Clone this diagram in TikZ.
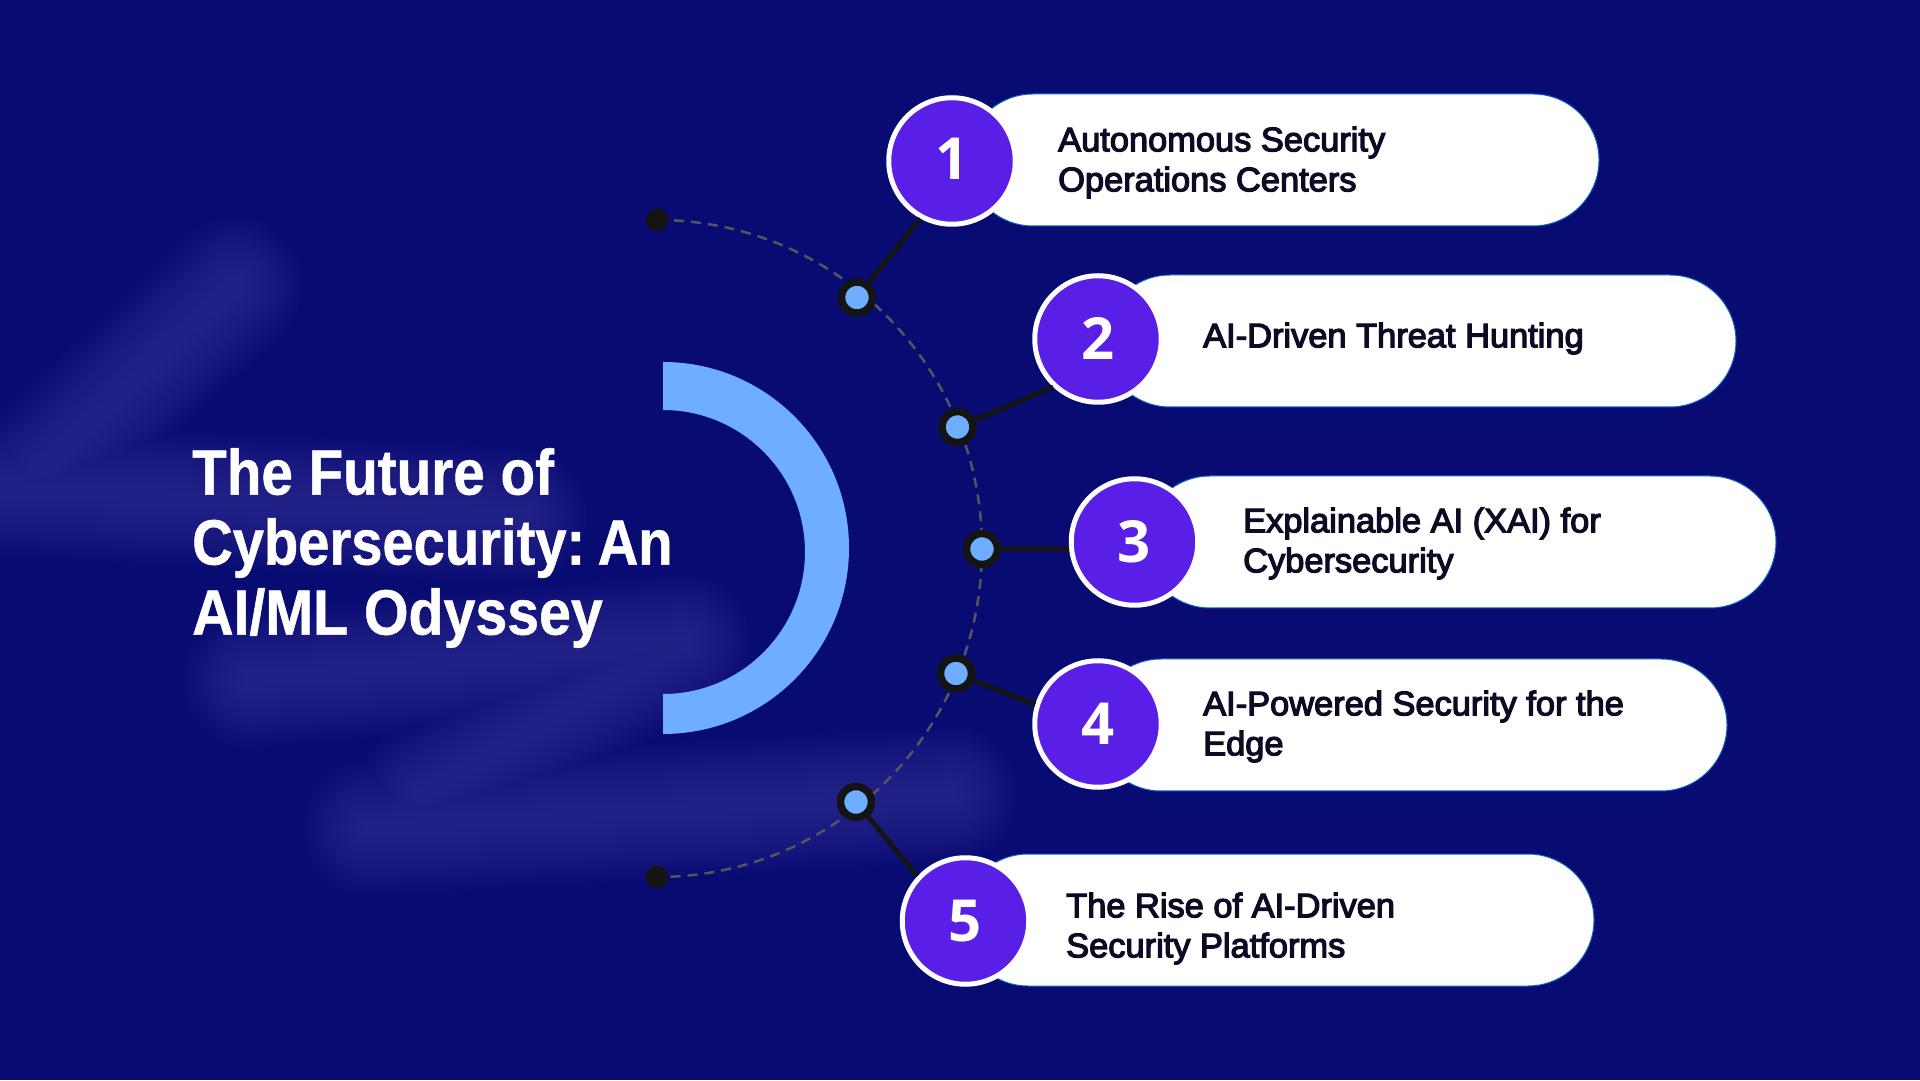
\documentclass[tikz,border=0pt]{standalone}
\usepackage{fontspec}
\usetikzlibrary{shapes.misc}
\setmainfont{Liberation Sans}
\newfontfamily\numfont{Open Sans}
\newfontfamily\itemfont[FakeBold=3.6,FakeStretch=1.012]{Liberation Sans}
\definecolor{bgnavy}{HTML}{070B72}
\definecolor{haze}{HTML}{2E2B90}
\definecolor{pillrim}{HTML}{0F5FC4}
\definecolor{numviolet}{HTML}{5A1FE6}
\definecolor{skyblue}{HTML}{6EADFF}
\definecolor{inkblack}{HTML}{141414}
\definecolor{dashgrey}{HTML}{55555F}
\definecolor{txtdark}{HTML}{0B0B24}
\tikzset{
  pill/.style={rounded rectangle,draw=pillrim,line width=1pt,fill=white,minimum height=132pt,minimum width=632pt,inner sep=0pt,outer sep=0pt},
  numdisc/.style={circle,draw=white,line width=5pt,fill=numviolet,minimum size=126.5pt,inner sep=0pt,text=white,font=\numfont\bfseries\fontsize{58}{58}\selectfont},
  hub/.style={circle,draw=inkblack,line width=7.5pt,fill=skyblue,minimum size=31pt,inner sep=0pt},
  enddot/.style={circle,fill=inkblack,minimum size=23pt,inner sep=0pt},
  spoke/.style={draw=inkblack,line width=5pt},
  itemtext/.style={anchor=west,align=left,text=txtdark,inner sep=0pt,font=\itemfont\fontsize{34}{40}\selectfont},
  titletext/.style={anchor=west,align=left,text=white,inner sep=0pt,font=\bfseries\fontsize{64}{70}\selectfont},
}
\newcommand{\hazeline}[1]{%
  \foreach \w in {134,126,...,6}{\draw[haze,line width=\w pt,line cap=round,line join=round,opacity=0.085] #1;}}
\begin{document}
\begin{tikzpicture}[x=1pt,y=1pt]
\useasboundingbox (0,0) rectangle (1920,1080);
\fill[bgnavy] (0,0) rectangle (1920,1080);
% blurred background streaks
\hazeline{(235,795) -- (40,610) (-40,594) -- (520,564) (250,400) -- (683,438) -- (423,286) (370,252) -- (950,286)}
% blue half ring
\fill[skyblue] (663,718) arc[start angle=90,end angle=-90,radius=186] -- (663,386) arc[start angle=-90,end angle=90,radius=142] -- cycle;
% dashed arc
\coordinate (atop) at (657,860);
\coordinate (abot) at (657,203);
\draw[dashgrey,line width=2.5pt,dash pattern=on 10pt off 7pt] (atop) arc[start angle=90,end angle=-90,x radius=325,y radius=328.5];
\node[enddot] (dtop) at (atop) {};
\node[enddot] (dbot) at (abot) {};
% pills
\node[pill] (p1) at (1283,920) {};
\node[pill] (p2) at (1420,739) {};
\node[pill] (p3) at (1460,538) {};
\node[pill] (p4) at (1411,355) {};
\node[pill] (p5) at (1278,160) {};
% discs
\node[numdisc] (n1) at (952,919) {\raisebox{4pt}{1}};
\node[numdisc] (n2) at (1098,741) {2};
\node[numdisc] (n3) at (1134.5,538) {3};
\node[numdisc] (n4) at (1098,356) {4};
\node[numdisc] (n5) at (965.5,159) {5};
% hubs
\node[hub] (h1) at (857,782.5) {};
\node[hub] (h2) at (957.5,653) {};
\node[hub] (h3) at (982,531) {};
\node[hub] (h4) at (956,406.5) {};
\node[hub] (h5) at (856,278) {};
% spokes
\draw[spoke] (h1) -- (n1.241);
\draw[spoke] (h2) -- (n2.227);
\draw[spoke] (h3) -- (n3.186);
\draw[spoke] (h4) -- (n4.163);
\draw[spoke] (h5) -- (n5.137);
% texts
\node[itemtext] (t1) at (1058,917.5) {Autonomous Security\\Operations Centers};
\node[itemtext] (t2) at (1203,741.5) {AI-Driven Threat Hunting};
\node[itemtext] (t3) at (1243,536.5) {Explainable AI (XAI) for\\Cybersecurity};
\node[itemtext] (t4) at (1203,353.5) {AI-Powered Security for the\\Edge};
\node[itemtext] (t5) at (1066,151.5) {The Rise of AI-Driven\\Security Platforms};
\node[titletext] (title) at (192,532) {{\addfontfeature{FakeStretch=0.885,FakeBold=0.8}The Future of}\\{\addfontfeature{FakeStretch=0.877,FakeBold=0.8}Cybersecurity:\kern-3pt\ An}\\{\addfontfeature{FakeStretch=0.895,FakeBold=0.8}AI/ML Odyssey}};
\end{tikzpicture}
\end{document}
